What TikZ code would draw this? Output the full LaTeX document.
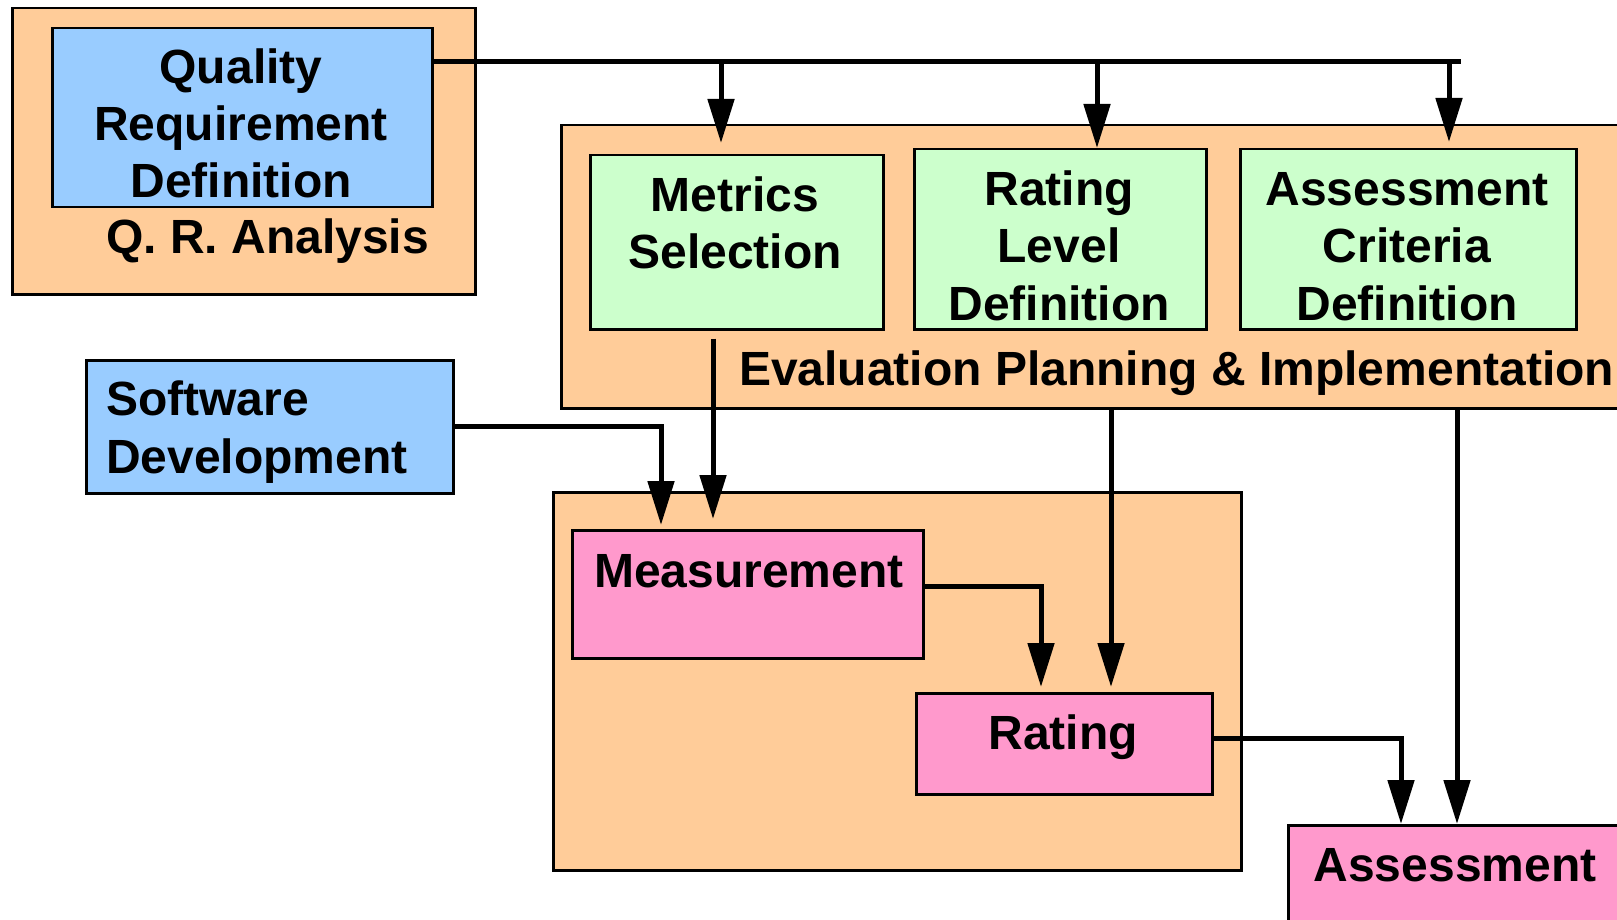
\documentclass[tikz,border=0pt]{standalone}
\usepackage{fontspec}
\setmainfont{Liberation Sans}
\usetikzlibrary{arrows.meta}
\definecolor{peach}{RGB}{255,204,153}
\definecolor{skyb}{RGB}{153,204,255}
\definecolor{mint}{RGB}{204,255,204}
\definecolor{pinkb}{RGB}{255,153,204}
\tikzset{
  box/.style={draw=black, line width=2.5pt, inner sep=0pt, anchor=north west},
  lbl/.style={inner sep=0pt, font=\fontsize{48pt}{57.5pt}\selectfont\bfseries},
  conn/.style={line width=5pt, draw=black},
  arr/.style={conn, -{Triangle[length=44pt, width=26pt]}},
}
\begin{document}
\begin{tikzpicture}[x=1pt, y=-1pt]
\useasboundingbox (0,0) rectangle (1617,920);
\clip (0,0) rectangle (1617,920);
\fill[white] (0,0) rectangle (1617,920);
% containers
\node[box, fill=peach, minimum width=463pt, minimum height=286pt] (qra) at (11,7) {};
\node[box, fill=skyb, minimum width=380pt, minimum height=179pt] (qrd) at (51,27) {};
\node[box, fill=skyb, minimum width=367pt, minimum height=133pt] (swd) at (85,359) {};
\node[box, fill=peach, minimum width=1100pt, minimum height=283pt] (eval) at (560,124) {};
\node[box, fill=mint, minimum width=293pt, minimum height=174pt] (metrics) at (589,154) {};
\node[box, fill=mint, minimum width=292pt, minimum height=180pt] (rld) at (913,148) {};
\node[box, fill=mint, minimum width=336pt, minimum height=180pt] (acd) at (1239,148) {};
\node[box, fill=peach, minimum width=688pt, minimum height=378pt] (measgrp) at (552,491) {};
\node[box, fill=pinkb, minimum width=351pt, minimum height=128pt] (measurement) at (571,529) {};
\node[box, fill=pinkb, minimum width=296pt, minimum height=101pt] (rating) at (915,692) {};
\node[box, fill=pinkb, minimum width=400pt, minimum height=150pt] (assessment) at (1287,824) {};
% labels (base anchor = last line's baseline)
\node[lbl, align=center, anchor=base] (tqrd) at (241,198) {Quality\\Requirement\\Definition};
\node[lbl, anchor=base west] (tqra) at (106,253) {Q. R. Analysis};
\node[lbl, align=left, anchor=base west] (tswd) at (106,473) {Software\\Development};
\node[lbl, align=center, anchor=base] (tmet) at (735,269) {Metrics\\Selection};
\node[lbl, align=center, anchor=base] (trld) at (1059,320) {Rating\\Level\\Definition};
\node[lbl, align=center, anchor=base] (tacd) at (1407,320) {Assessment\\Criteria\\Definition};
\node[lbl, anchor=base west] (teval) at (739,385) {Evaluation Planning \& Implementation};
\node[lbl, anchor=base west] (tmeas) at (594,587) {Measurement};
\node[lbl, anchor=base] (trat) at (1063,749) {Rating};
\node[lbl, anchor=base] (tass) at (1455,881) {Assessment};
% connectors
\coordinate (bus) at (1461,62);
\draw[conn] (qrd.east |- bus) -- (bus);
\draw[arr, shorten >=11pt] (721,0 |- bus) -- (721,0 |- metrics.north);
\draw[arr] (1097,0 |- bus) -- (1097,0 |- rld.north);
\draw[arr, shorten >=6pt] (1449,0 |- bus) -- (1449,0 |- acd.north);
\draw[arr, shorten <=8pt, shorten >=10pt] (713,0 |- metrics.south) -- (713,0 |- measurement.north);
\draw[arr, shorten >=4pt] (swd.east) -- (661,0 |- swd.east) -- (661,0 |- measurement.north);
\draw[arr, shorten >=5pt] (measurement.east |- 0,586) -| (1041,0 |- rating.north);
\draw[arr, shorten >=5pt] (1111,0 |- eval.south) -- (1111,0 |- rating.north);
\draw[arr] (1457,0 |- eval.south) -- (1457,0 |- assessment.north);
\draw[arr] (rating.east |- 0,738) -| (1401,0 |- assessment.north);
\end{tikzpicture}
\end{document}
